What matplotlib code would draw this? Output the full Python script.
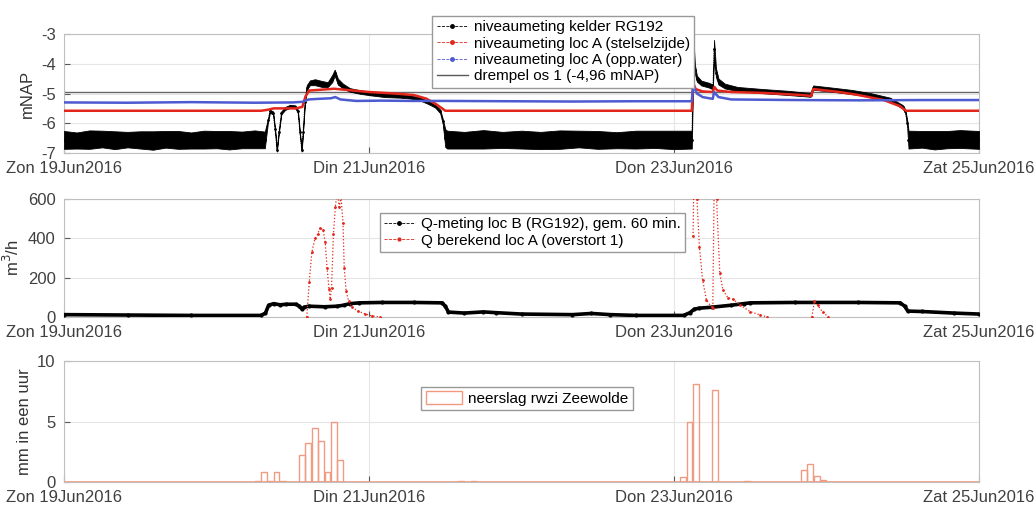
import numpy as np
import matplotlib
matplotlib.use("Agg")
import matplotlib.pyplot as plt
from matplotlib.lines import Line2D
from matplotlib.patches import Patch

plt.rcParams["font.family"] = ["Liberation Sans", "DejaVu Sans"]
plt.rcParams["axes.unicode_minus"] = False

# tijd in uren vanaf zondag 19 juni 2016 00:00
tick_hours = [0, 48, 96, 144]
tick_labels = ["Zon 19Jun2016", "Din 21Jun2016", "Don 23Jun2016", "Zat 25Jun2016"]

# niveaumeting kelder RG192: midden van de meetwolk en halve spreiding (mNAP)
kelder_t = [0, 2, 4, 6, 8, 10, 12, 14, 16, 18, 20, 22, 24, 26, 28, 30, 31.6, 32.1,
            32.4, 32.9, 33.2, 33.5, 33.8, 34.2, 34.8, 35.6, 36.4, 36.8, 37.1, 37.4,
            37.6, 37.9, 38.2, 38.7, 39.5, 40.6, 41.5, 42.2, 42.6, 43.1, 43.9, 45.0,
            46.6, 48.2, 50.5, 52.9, 54.5, 56.0, 57.3, 58.4, 59.2, 59.6, 60.0, 60.3,
            63, 66, 69, 72, 75, 78, 81, 84, 87, 90, 93, 96, 98.8,
            99.05, 99.3, 99.6, 100.3, 101.5, 102.1, 102.3, 102.6, 103.0, 104.0, 106,
            110, 114, 117.5, 117.9, 120, 124, 127, 130, 132.0, 132.4, 132.7, 132.9,
            135, 137, 139, 141, 144]
kelder_mid = [-6.56, -6.58, -6.55, -6.53, -6.57, -6.55, -6.56, -6.58, -6.54, -6.56,
              -6.58, -6.55, -6.55, -6.57, -6.56, -6.54, -6.56, -5.9,
              -5.6, -5.65, -6.2, -6.9, -6.3, -5.65, -5.5, -5.43, -5.45, -5.6, -6.3,
              -6.9, -6.3, -5.3, -4.8, -4.64, -4.62, -4.68, -4.7, -4.5, -4.3, -4.6,
              -4.75, -4.88, -4.95, -5.0, -5.05, -5.08, -5.12, -5.18, -5.3, -5.42,
              -5.6, -5.93, -6.5, -6.55,
              -6.57, -6.54, -6.56, -6.55, -6.58, -6.55, -6.53, -6.56, -6.57, -6.55,
              -6.54, -6.56, -6.55,
              -3.45, -4.2, -4.5, -4.65, -4.72, -4.78, -3.5, -4.3, -4.6, -4.75,
              -4.85, -4.92, -4.98, -5.05, -4.8, -4.85, -4.95, -5.05, -5.2, -5.45,
              -5.6, -6.0, -6.55, -6.54, -6.57, -6.55, -6.53, -6.56]
kelder_spread = [0.3, 0.27, 0.31, 0.28, 0.3, 0.26, 0.29, 0.31, 0.28, 0.3, 0.27, 0.3,
                 0.29, 0.31, 0.28, 0.3, 0.28, 0.05,
                 0.05, 0.05, 0.05, 0.05, 0.05, 0.05, 0.05, 0.05, 0.05, 0.05, 0.05,
                 0.05, 0.05, 0.08, 0.08, 0.08, 0.1, 0.1, 0.08, 0.12, 0.1, 0.1,
                 0.08, 0.06, 0.06, 0.06, 0.07, 0.06, 0.05, 0.05, 0.05, 0.05,
                 0.06, 0.08, 0.3, 0.3,
                 0.28, 0.31, 0.27, 0.3, 0.29, 0.31, 0.28, 0.3, 0.27, 0.3,
                 0.29, 0.31, 0.3,
                 0.28, 0.15, 0.1, 0.08, 0.08, 0.08, 0.3, 0.15, 0.1, 0.08,
                 0.07, 0.07, 0.07, 0.06, 0.07, 0.07, 0.07, 0.06, 0.06, 0.06,
                 0.06, 0.1, 0.3, 0.28, 0.31, 0.29, 0.3, 0.3]

# niveaumeting loc A (stelselzijde)
stelsel_t = [0, 31, 32, 33, 36.5, 37.5, 38.0, 38.6, 40, 42.5, 44, 48, 52, 55, 57,
             58.5, 59.5, 60, 98.8, 99.0, 99.4, 100.5, 102.1, 102.35, 102.8, 105, 110,
             116, 117.6, 117.9, 122, 125, 129, 131.5, 132.5, 144]
stelsel_v = [-5.58, -5.58, -5.55, -5.5, -5.5, -5.45, -5.1, -4.9, -4.88, -4.84, -4.87,
             -4.95, -5.0, -5.05, -5.17, -5.35, -5.5, -5.58, -5.58, -4.63, -4.85, -4.93,
             -4.95, -4.78, -4.9, -4.95, -4.98, -5.05, -5.08, -4.85, -4.95, -5.05,
             -5.22, -5.42, -5.58, -5.58]

# niveaumeting loc A (opp.water)
oppwater_t = [0, 10, 20, 30, 36, 37.5, 38.5, 40, 42, 42.7, 43.5, 46, 50, 55, 60, 70,
              80, 90, 98.8, 99.0, 99.6, 100.5, 102.1, 102.3, 103, 105, 115, 125, 135, 144]
oppwater_v = [-5.3, -5.31, -5.29, -5.31, -5.3, -5.28, -5.2, -5.18, -5.16, -5.12, -5.2,
              -5.25, -5.24, -5.25, -5.25, -5.26, -5.27, -5.26, -5.26, -4.72, -5.0,
              -5.12, -5.18, -4.95, -5.12, -5.2, -5.22, -5.23, -5.22, -5.22]

drempel = -4.96

# Q-meting loc B (RG192), gemiddeld over 60 minuten (m3/h)
qmeting_t = [0, 10, 20, 31, 31.7, 32.2, 33, 34, 35, 36.5, 37, 37.4, 37.8, 38.5, 41,
             43, 44, 45, 46.5, 50, 55, 59.5, 60, 60.5, 63, 66, 68, 72, 80, 83, 86, 90,
             97.5, 98.5, 99.2, 100, 102, 105, 107, 108, 115, 125, 131.6, 132.3, 132.8,
             135, 140, 144]
qmeting_v = [12, 10, 8, 8, 20, 60, 68, 62, 65, 65, 55, 42, 50, 55, 52, 55, 60, 68, 72,
             74, 74, 72, 55, 25, 20, 26, 22, 15, 12, 18, 12, 8, 8, 22, 40, 45, 50, 60,
             68, 72, 74, 74, 72, 55, 30, 28, 20, 15]

# Q berekend loc A (overstort 1); nan scheidt de overstortingen
qber_t = [38.2, 38.6, 39.0, 39.5, 39.9, 40.3, 40.8, 41.1, 41.4, 41.7, 41.9, 42.1, 42.4,
          42.7, 43.0, 43.3, 43.6, 43.9, 44.1, 44.4, 44.8, 45.3, 46.3, 47.4, 48.5, 49.7,
          np.nan, 99.0, 99.2, 99.6, 100.0, 100.5, 101.1, 101.9, 102.1, 102.4, 102.7,
          103.2, 103.7, 104.5, 105.3, 106.4, 108.0, 109.6, 110.7,
          np.nan, 117.7, 118.1, 118.6, 119.4, 120.3]
qber_v = [0, 180, 330, 400, 420, 455, 440, 380, 250, 140, 90, 150, 420, 560, 640, 560,
          610, 480, 250, 130, 80, 50, 30, 15, 6, 0,
          np.nan, 410, 900, 600, 356, 188, 86, 52, 45, 900, 600, 223, 137, 97, 90, 61,
          27, 10, 0,
          np.nan, 0, 80, 60, 25, 0]

# neerslag rwzi Zeewolde, per uur (mm)
regen_uur = [30, 31, 32, 33, 34, 37, 38, 39, 40, 41, 42, 43, 62, 64, 97, 98, 99, 102,
             107, 116, 117, 118, 119]
regen_mm = [0.1, 0.8, 0.1, 0.8, 0.1, 2.2, 3.2, 4.5, 3.4, 0.8, 5.0, 1.8, 0.1, 0.1, 0.4,
            5.0, 8.1, 7.6, 0.1, 1.0, 1.5, 0.5, 0.15]

red = "#e2261b"
blue = "#4d5ad0"
salmon = "#f29a80"
grid_c = "0.9"


def style_axes(ax):
    ax.set_xlim(0, 144)
    ax.set_xticks(tick_hours)
    ax.set_xticklabels(tick_labels)
    ax.grid(True, color=grid_c, lw=0.8)
    ax.set_axisbelow(True)
    for s in ax.spines.values():
        s.set_color("0.75")
        s.set_linewidth(0.8)
    ax.tick_params(direction="in", length=4, color="0.35", labelcolor="0.25",
                   labelsize=12, pad=6)


fig = plt.figure(figsize=(10.36, 5.09), dpi=100)
ax1 = fig.add_axes([0.0618, 0.6994, 0.8832, 0.2338])
ax2 = fig.add_axes([0.0618, 0.3772, 0.8832, 0.2318])
ax3 = fig.add_axes([0.0618, 0.0530, 0.8832, 0.2378])

# bovenste paneel: waterstanden
kt = np.array(kelder_t)
km = np.array(kelder_mid)
ks = np.array(kelder_spread)
ax1.fill_between(kt, km - ks, km + ks, color="black", lw=0.6, zorder=3)
ax1.plot(kt, km, color="black", lw=0.6, ls=":", marker=".", ms=2, zorder=3)
ax1.plot(stelsel_t, stelsel_v, color=red, lw=1.8, zorder=4)
ax1.plot(oppwater_t, oppwater_v, color=blue, lw=1.8, zorder=4)
ax1.axhline(drempel, color="0.4", lw=1.0, zorder=2)
ax1.set_ylim(-7, -3)
ax1.set_yticks([-7, -6, -5, -4, -3])
ax1.set_ylabel("mNAP", fontsize=12, color="0.2")
style_axes(ax1)

h1 = [Line2D([], [], color="black", lw=0.6, ls="--", marker=".", ms=5),
      Line2D([], [], color=red, lw=0.6, ls="--", marker=".", ms=5),
      Line2D([], [], color=blue, lw=0.6, ls="--", marker=".", ms=5),
      Line2D([], [], color="0.35", lw=1.0)]
l1 = ["niveaumeting kelder RG192", "niveaumeting loc A (stelselzijde)",
      "niveaumeting loc A (opp.water)", "drempel os 1 (-4,96 mNAP)"]
ax1.legend(h1, l1, loc="upper left", bbox_to_anchor=(0.410, 0.984),
           bbox_transform=fig.transFigure, fontsize=11, frameon=True,
           fancybox=False, framealpha=1, edgecolor="0.6", handlelength=2.0,
           handletextpad=0.4, borderpad=0.3, labelspacing=0.15)

# middelste paneel: debieten
ax2.plot(qmeting_t, qmeting_v, color="black", lw=2.6, marker=".", ms=4, zorder=3)
ax2.plot(qber_t, qber_v, color=red, lw=0.9, ls=":", marker=".", ms=2, zorder=4)
ax2.set_ylim(0, 600)
ax2.set_yticks([0, 200, 400, 600])
ax2.set_ylabel("m$^3$/h", fontsize=12, color="0.2")
style_axes(ax2)

h2 = [Line2D([], [], color="black", lw=0.6, ls="--", marker=".", ms=5),
      Line2D([], [], color=red, lw=0.6, ls="--", marker=".", ms=4)]
l2 = ["Q-meting loc B (RG192), gem. 60 min.", "Q berekend loc A (overstort 1)"]
ax2.legend(h2, l2, loc="upper left", bbox_to_anchor=(0.359, 0.597),
           bbox_transform=fig.transFigure, fontsize=11, frameon=True,
           fancybox=False, framealpha=1, edgecolor="0.6", handlelength=2.0,
           handletextpad=0.4, borderpad=0.3, labelspacing=0.15)

# onderste paneel: neerslag
ax3.bar(regen_uur, regen_mm, width=0.9, align="edge", facecolor="none",
        edgecolor=salmon, lw=1.0, zorder=3)
ax3.axhline(0, color=salmon, lw=1.2, zorder=3)
ax3.set_ylim(0, 10)
ax3.set_yticks([0, 5, 10])
ax3.set_ylabel("mm in een uur", fontsize=12, color="0.2")
style_axes(ax3)

h3 = [Patch(facecolor="none", edgecolor=salmon, lw=1.0)]
ax3.legend(h3, ["neerslag rwzi Zeewolde"], loc="upper left",
           bbox_to_anchor=(0.399, 0.2554), bbox_transform=fig.transFigure,
           fontsize=11, frameon=True, fancybox=False, framealpha=1,
           edgecolor="0.6", handlelength=2.4, handleheight=0.9,
           handletextpad=0.4, borderpad=0.3)

fig.savefig("out.png", dpi=100)
